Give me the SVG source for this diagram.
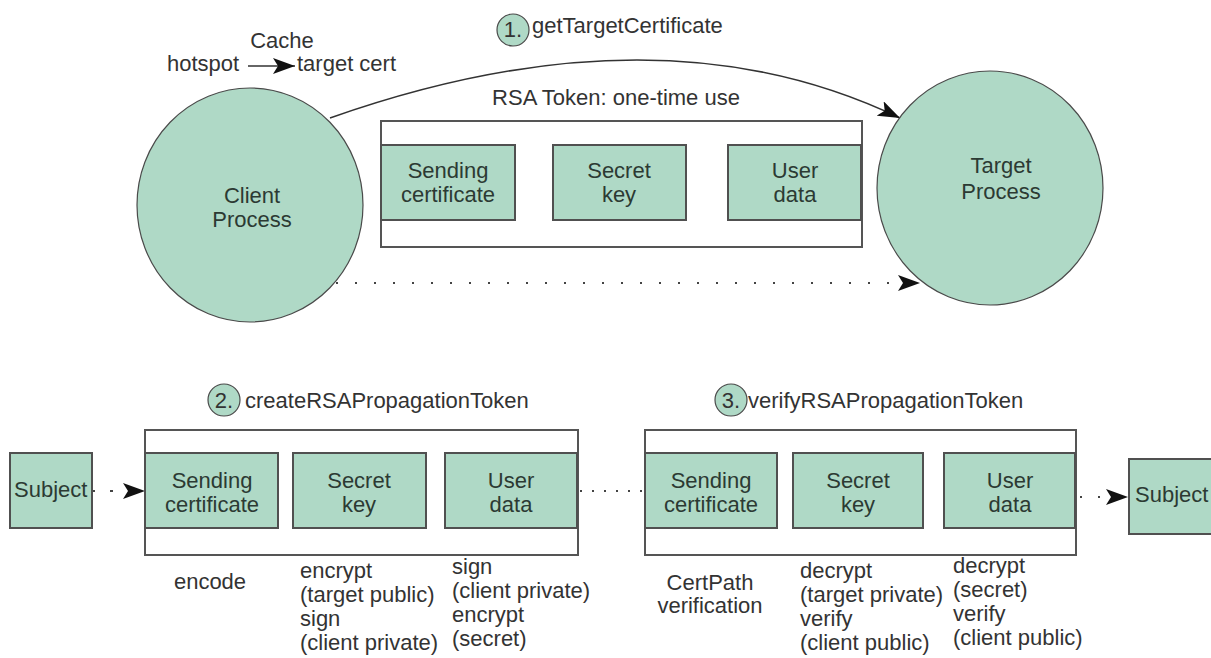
<svg xmlns="http://www.w3.org/2000/svg" width="1211" height="658" viewBox="0 0 1211 658">
<style>
  .bg { fill: #ffffff; }
  .proc { fill: #afd9c6; stroke: #4a4a4a; stroke-width: 1.2; }
  .box { fill: #afd9c6; stroke: #505050; stroke-width: 2; }
  .frame { fill: #ffffff; stroke: #555555; stroke-width: 2; }
  .badge { fill: #afd9c6; stroke: #4a4a4a; stroke-width: 1.2; }
  .t { font-family: "Liberation Sans", Arial, sans-serif; font-size: 22px; fill: #333333; }
  .tn { font-family: "Liberation Sans", Arial, sans-serif; font-size: 22px; fill: #2c3a33; text-anchor: middle; }
  .c { text-anchor: middle; }
  .link { stroke: #505050; stroke-width: 2; fill: none; }
  .solid { stroke: #333333; stroke-width: 1.5; fill: none; }
  .dot { stroke: #444444; stroke-width: 2; fill: none; }
</style>
<defs>
  <marker id="ah" markerUnits="userSpaceOnUse" markerWidth="24" markerHeight="16" refX="22" refY="8" orient="auto">
    <path d="M0,0 L22,8 L0,16 L5,8 Z" fill="#111111"/>
  </marker>
</defs>
<rect class="bg" x="0" y="0" width="1211" height="658"/>

<g id="connectors">
  <path class="solid" d="M330,118 Q659,2 900,118" marker-end="url(#ah)"/>
  <path class="dot" d="M336,283 L920,283" stroke-dasharray="2 17" marker-end="url(#ah)"/>
  <path class="solid" d="M248,66 L295,66" marker-end="url(#ah)"/>
  <line class="link" x1="515" y1="183" x2="553" y2="183"/>
  <line class="link" x1="686" y1="183" x2="728" y2="183"/>
  <path class="dot" d="M92,491 L145,491" stroke-dasharray="3 15" marker-end="url(#ah)"/>
  <line class="link" x1="278" y1="491" x2="293" y2="491"/>
  <line class="link" x1="426" y1="491" x2="445" y2="491"/>
  <path class="dot" d="M580,491 L645,491" stroke-dasharray="2 10"/>
  <line class="link" x1="777" y1="491" x2="793" y2="491"/>
  <line class="link" x1="923" y1="491" x2="944" y2="491"/>
  <path class="dot" d="M1080,497 L1128,497" stroke-dasharray="2 16" marker-end="url(#ah)"/>
</g>

<g id="cache-label">
  <text class="t c" x="282" y="48">Cache</text>
  <text class="t" x="167" y="71">hotspot</text>
  <text class="t" x="297" y="71">target cert</text>
</g>

<g id="step1">
  <circle class="badge" cx="513" cy="30" r="16"/>
  <text class="t c" x="513" y="37">1.</text>
  <text class="t" x="532" y="33">getTargetCertificate</text>
</g>

<g id="client-process">
  <ellipse class="proc" cx="250" cy="205" rx="113" ry="117"/>
  <text class="tn" x="252" y="203">Client</text>
  <text class="tn" x="252" y="227">Process</text>
</g>

<g id="target-process">
  <ellipse class="proc" cx="990" cy="188" rx="113" ry="117"/>
  <text class="tn" x="1001" y="173">Target</text>
  <text class="tn" x="1001" y="199">Process</text>
</g>

<g id="rsa-token-top">
  <text class="t c" x="616" y="105">RSA Token: one-time use</text>
  <rect class="frame" x="381" y="121" width="481" height="126"/>
  <g id="top-sending-cert">
    <rect class="box" x="381" y="145" width="134" height="75"/>
    <text class="tn" x="448" y="178">Sending</text>
    <text class="tn" x="448" y="202">certificate</text>
  </g>
  <g id="top-secret-key">
    <rect class="box" x="553" y="145" width="133" height="75"/>
    <text class="tn" x="619" y="178">Secret</text>
    <text class="tn" x="619" y="202">key</text>
  </g>
  <g id="top-user-data">
    <rect class="box" x="728" y="145" width="133" height="75"/>
    <text class="tn" x="795" y="178">User</text>
    <text class="tn" x="795" y="202">data</text>
  </g>
</g>

<g id="subject-left">
  <rect class="box" x="10" y="453" width="82" height="75"/>
  <text class="t" x="14" y="497" style="fill:#2c3a33">Subject</text>
</g>

<g id="step2">
  <circle class="badge" cx="224" cy="400" r="16"/>
  <text class="t c" x="224" y="408">2.</text>
  <text class="t" x="245" y="408">createRSAPropagationToken</text>
</g>

<g id="create-token">
  <rect class="frame" x="145" y="430" width="433" height="125"/>
  <g id="create-sending-cert">
    <rect class="box" x="145" y="453" width="133" height="75"/>
    <text class="tn" x="212" y="488">Sending</text>
    <text class="tn" x="212" y="512">certificate</text>
  </g>
  <g id="create-secret-key">
    <rect class="box" x="293" y="453" width="133" height="75"/>
    <text class="tn" x="359" y="488">Secret</text>
    <text class="tn" x="359" y="512">key</text>
  </g>
  <g id="create-user-data">
    <rect class="box" x="445" y="453" width="132" height="75"/>
    <text class="tn" x="511" y="488">User</text>
    <text class="tn" x="511" y="512">data</text>
  </g>
</g>

<g id="create-notes">
  <text class="t c" x="210" y="589">encode</text>
  <text class="t" x="300" y="578">encrypt</text>
  <text class="t" x="300" y="602">(target public)</text>
  <text class="t" x="300" y="626">sign</text>
  <text class="t" x="300" y="650">(client private)</text>
  <text class="t" x="452" y="574">sign</text>
  <text class="t" x="452" y="598">(client private)</text>
  <text class="t" x="452" y="622">encrypt</text>
  <text class="t" x="452" y="646">(secret)</text>
</g>

<g id="step3">
  <circle class="badge" cx="731" cy="400" r="16"/>
  <text class="t c" x="731" y="408">3.</text>
  <text class="t" x="748" y="408">verifyRSAPropagationToken</text>
</g>

<g id="verify-token">
  <rect class="frame" x="645" y="430" width="431" height="125"/>
  <g id="verify-sending-cert">
    <rect class="box" x="645" y="453" width="132" height="75"/>
    <text class="tn" x="711" y="488">Sending</text>
    <text class="tn" x="711" y="512">certificate</text>
  </g>
  <g id="verify-secret-key">
    <rect class="box" x="793" y="453" width="130" height="75"/>
    <text class="tn" x="858" y="488">Secret</text>
    <text class="tn" x="858" y="512">key</text>
  </g>
  <g id="verify-user-data">
    <rect class="box" x="944" y="453" width="131" height="75"/>
    <text class="tn" x="1010" y="488">User</text>
    <text class="tn" x="1010" y="512">data</text>
  </g>
</g>

<g id="verify-notes">
  <text class="t c" x="710" y="590">CertPath</text>
  <text class="t c" x="710" y="613">verification</text>
  <text class="t" x="800" y="578">decrypt</text>
  <text class="t" x="800" y="602">(target private)</text>
  <text class="t" x="800" y="626">verify</text>
  <text class="t" x="800" y="650">(client public)</text>
  <text class="t" x="953" y="573">decrypt</text>
  <text class="t" x="953" y="597">(secret)</text>
  <text class="t" x="953" y="621">verify</text>
  <text class="t" x="953" y="645">(client public)</text>
</g>

<g id="subject-right">
  <rect class="box" x="1129" y="459" width="90" height="75"/>
  <text class="t" x="1135" y="502" style="fill:#2c3a33">Subject</text>
</g>
</svg>
